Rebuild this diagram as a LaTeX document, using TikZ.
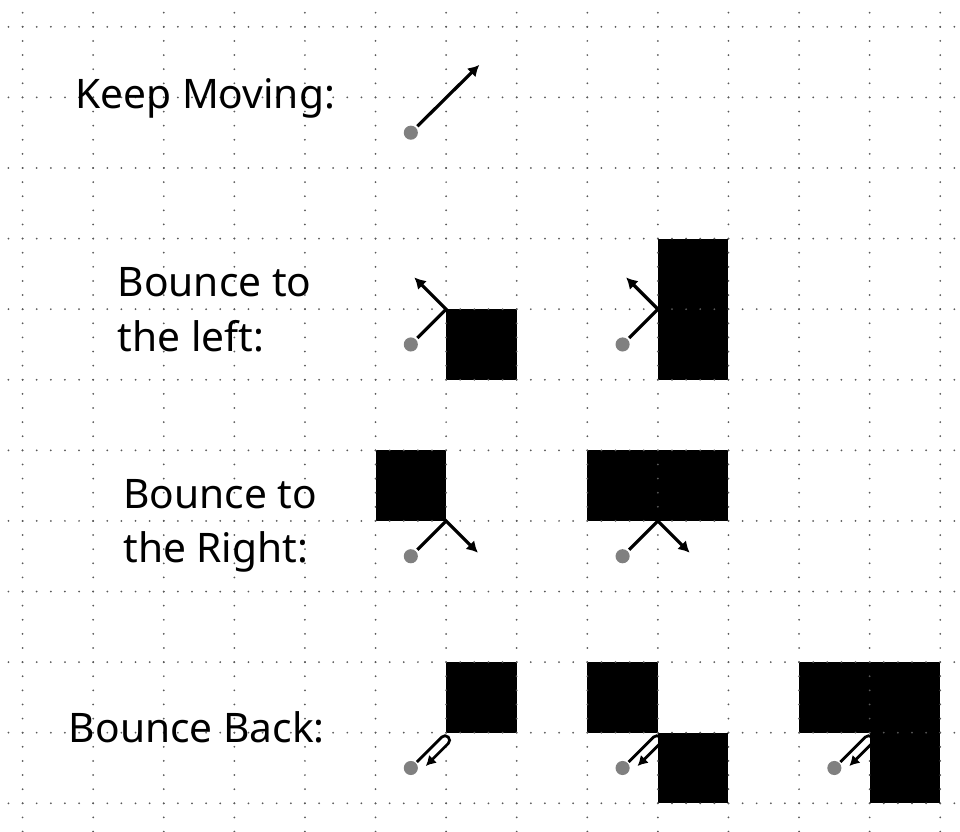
\documentclass[tikz,border=0pt]{standalone}
\usepackage{fontspec}
\setmainfont{Noto Sans}
\usetikzlibrary{arrows.meta}

\begin{document}
\begin{tikzpicture}[x=1cm,y=1cm,
  every node/.style={font=\fontsize{16.4}{22}\selectfont},
  gdot/.style={black!65,line width=0.8pt,line cap=round,dash pattern=on 0pt off 0.2cm},
  ballnode/.style={circle,fill=black!50,minimum size=0.2cm,inner sep=0pt,outer sep=0.03cm},
  movearrow/.style={line width=1.3pt,-{Latex[length=4.5pt,width=5pt]}},
  backarrow/.style={line width=1.1pt,-{Latex[length=4pt,width=4.5pt]}},
  txtlabel/.style={align=left,anchor=base west,inner sep=0pt}]
  \newcommand{\backpath}[2]{
    \begin{scope}[shift={(#1,#2)},rotate=45]
      \draw[backarrow] (0.12,0) -- (0.62,0)
        arc[start angle=90,end angle=-90,radius=0.065] -- (0.17,-0.13);
    \end{scope}
  }
  \useasboundingbox (-0.32,-0.4) rectangle (13.28,11.38);
  \fill (6,6) rectangle (7,7);
  \fill (9,6) rectangle (10,8);
  \fill (5,4) rectangle (6,5);
  \fill (8,4) rectangle (10,5);
  \fill (6,1) rectangle (7,2);
  \fill (8,1) rectangle (9,2);
  \fill (9,0) rectangle (10,1);
  \fill (11,1) rectangle (13,2);
  \fill (12,0) rectangle (13,1);
  \foreach \x in {0,...,13}
    \draw[gdot] (\x,-0.4) -- (\x,11.2);
  \foreach \y in {0,...,11}
    \draw[gdot] (-0.2,\y) -- (13.2,\y);

  \node[txtlabel] (keep) at (0.74,9.84) {Keep Moving:};
  \node[txtlabel] (left) at (1.34,6.40) {Bounce to\\the left:};
  \node[txtlabel] (right) at (1.42,3.41) {Bounce to\\the Right:};
  \node[txtlabel] (back) at (0.65,0.86) {Bounce Back:};

  \node[ballnode] (kball) at (5.5,9.5) {};
  \coordinate (ktip) at (6.47,10.46);
  \draw[movearrow] (kball) -- (ktip);

  \node[ballnode] (lball1) at (5.5,6.5) {};
  \coordinate (lhit1) at (6,7);
  \coordinate (ltip1) at (5.55,7.45);
  \draw[movearrow] (lball1) -- (lhit1) -- (ltip1);
  \node[ballnode] (lball2) at (8.5,6.5) {};
  \coordinate (lhit2) at (9,7);
  \coordinate (ltip2) at (8.55,7.45);
  \draw[movearrow] (lball2) -- (lhit2) -- (ltip2);

  \node[ballnode] (rball1) at (5.5,3.5) {};
  \coordinate (rhit1) at (6,4);
  \coordinate (rtip1) at (6.45,3.55);
  \draw[movearrow] (rball1) -- (rhit1) -- (rtip1);
  \node[ballnode] (rball2) at (8.5,3.5) {};
  \coordinate (rhit2) at (9,4);
  \coordinate (rtip2) at (9.45,3.55);
  \draw[movearrow] (rball2) -- (rhit2) -- (rtip2);

  \backpath{5.5}{0.5}
  \backpath{8.5}{0.5}
  \backpath{11.5}{0.5}
  \node[ballnode] (bball1) at (5.5,0.5) {};
  \node[ballnode] (bball2) at (8.5,0.5) {};
  \node[ballnode] (bball3) at (11.5,0.5) {};
\end{tikzpicture}
\end{document}
